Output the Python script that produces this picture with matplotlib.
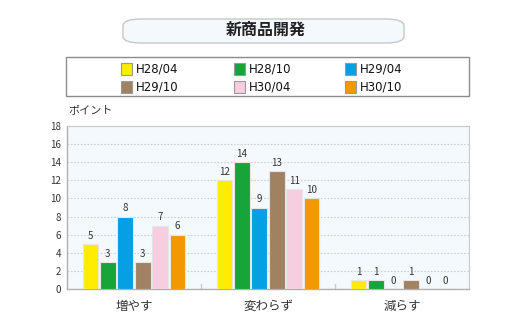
import numpy as np
import matplotlib
matplotlib.use("Agg")
import matplotlib.pyplot as plt
from matplotlib.patches import FancyBboxPatch, Rectangle

plt.rcParams['font.family'] = ['Noto Sans CJK JP', 'DejaVu Sans']

title = "新商品開発"
categories = ["増やす", "変わらず", "減らす"]
periods = ["H28/04", "H28/10", "H29/04", "H29/10", "H30/04", "H30/10"]
colors = ["#ffec00", "#17a53a", "#059fe3", "#a08263", "#f7cde0", "#f39800"]
values = [
    [5, 12, 1],   # H28/04
    [3, 14, 1],   # H28/10
    [8, 9, 0],    # H29/04
    [3, 13, 1],   # H29/10
    [7, 11, 0],   # H30/04
    [6, 10, 0],   # H30/10
]
yticks = list(range(0, 19, 2))

fig = plt.figure(figsize=(5.2, 3.26), dpi=100)

# title box
fig.patches.append(FancyBboxPatch((123 / 520, 1 - 43 / 326), 281 / 520, 24 / 326,
                                  boxstyle="round,pad=0,rounding_size=0.035",
                                  transform=fig.transFigure, facecolor="#f3f9fd",
                                  edgecolor="#c8c8c8", linewidth=1.0, mutation_aspect=0.6))
fig.text(266 / 520, 1 - 30 / 326, title, ha="center", va="center",
         fontsize=11.5, fontweight="bold", color="#222222")

# legend frame and entries
fig.patches.append(Rectangle((66 / 520, 1 - 96 / 326), 403 / 520, 39 / 326,
                             transform=fig.transFigure, facecolor="white",
                             edgecolor="#8c8c8c", linewidth=1.0))
col_x = [121, 234, 345]
row_y = [69, 87]
for i, (lab, c) in enumerate(zip(periods, colors)):
    x0 = col_x[i % 3]
    y0 = row_y[i // 3]
    fig.patches.append(Rectangle((x0 / 520, 1 - (y0 + 6) / 326), 11 / 520, 12 / 326,
                                 transform=fig.transFigure, facecolor=c,
                                 edgecolor="#999999", linewidth=0.8))
    fig.text((x0 + 15) / 520, 1 - y0 / 326, lab, ha="left", va="center",
             fontsize=8.5, color="#111111", family="DejaVu Sans")

ax = fig.add_axes([67 / 520, 1 - 289 / 326, 402 / 520, 163 / 326])
ax.set_facecolor("#f3f9fc")

n = len(periods)
x = np.arange(len(categories))
width = 0.118
step = 0.13
for i, (lab, c, v) in enumerate(zip(periods, colors, values)):
    pos = x + (i - (n - 1) / 2) * step
    bars = ax.bar(pos, v, width, color=c, edgecolor="#e6e6e6", linewidth=0.8, zorder=3)
    for b, val in zip(bars, v):
        ax.text(b.get_x() + b.get_width() / 2, val + 0.35, str(val),
                ha="center", va="bottom", fontsize=7, color="#333333", zorder=4)

ax.set_xlim(-0.5, len(categories) - 0.5)
ax.set_ylim(0, 18)
ax.set_yticks(yticks)
ax.set_yticklabels([str(t) for t in yticks], fontsize=7, color="#333333")
ax.set_xticks(x)
ax.set_xticklabels(categories, fontsize=9, color="#333333")
ax.tick_params(axis="x", length=0, pad=8)
ax.tick_params(axis="y", length=0, pad=4)
ax.yaxis.grid(True, linestyle=(0, (1.5, 1.5)), color="#cfcfcf", linewidth=0.8, zorder=0)

# separators between groups
for s in [0.5, 1.5]:
    ax.plot([s, s], [0, 0.5], color="#cccccc", linewidth=1.0, zorder=2, clip_on=False)

for side in ["top", "right"]:
    ax.spines[side].set_color("#c8c8c8")
    ax.spines[side].set_linewidth(0.8)
for side in ["left", "bottom"]:
    ax.spines[side].set_color("#b0b0b0")
    ax.spines[side].set_linewidth(1.0)

fig.text(68 / 520, 1 - 110 / 326, "ポイント", ha="left", va="center",
         fontsize=8, color="#333333")

fig.savefig("out.png", dpi=100)
